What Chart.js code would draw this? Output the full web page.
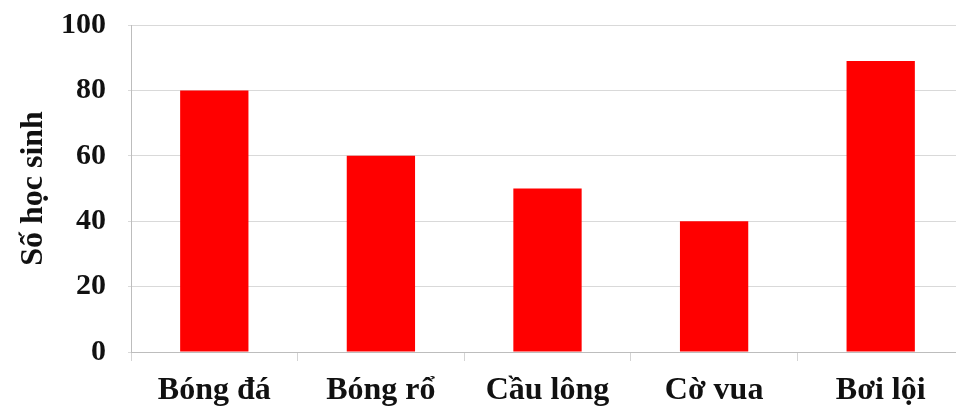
<!DOCTYPE html>
<html>
<head>
<meta charset="utf-8">
<script src="https://cdn.jsdelivr.net/npm/chart.js@4"></script>
<style>
  body { margin: 0; background: #fff; overflow: hidden; }
</style>
</head>
<body>
<canvas id="chart" width="964" height="415"></canvas>
<script>
// data
const sports = ["Bóng đá", "Bóng rổ", "Cầu lông", "Cờ vua", "Bơi lội"];
const students = [80, 60, 50, 40, 89];
const yTicks = [0, 20, 40, 60, 80, 100];

const serif = "'Liberation Serif', 'DejaVu Serif', serif";

new Chart(document.getElementById("chart"), {
    type: "bar",
    data: {
        labels: sports,
        datasets: [{
            data: students,
            backgroundColor: "#ff0000",
            borderWidth: 0,
            categoryPercentage: 1,
            barPercentage: 0.41
        }]
    },
    options: {
        responsive: false,
        animation: false,
        layout: { padding: { top: 25, left: 18, right: 0, bottom: 0 } },
        plugins: { legend: { display: false }, tooltip: { enabled: false } },
        scales: {
            x: {
                grid: {
                    offset: true,
                    drawOnChartArea: false,
                    drawTicks: true,
                    tickLength: 9,
                    color: "#d4d4d4"
                },
                border: { color: "#bdbdbd", width: 1 },
                ticks: {
                    color: "#111",
                    padding: 14,
                    font: { family: serif, size: 32, weight: "bold", lineHeight: 1 }
                },
                afterFit: function(scale){ scale.height = 63; }
            },
            y: {
                min: 0,
                max: 100,
                afterBuildTicks: function(scale){
                    scale.ticks = yTicks.map(function(v){ return { value: v }; });
                },
                grid: { color: "#d9d9d9", tickLength: 3 },
                border: { color: "#bdbdbd", width: 1 },
                ticks: {
                    color: "#111",
                    padding: 22,
                    font: { family: serif, size: 30, weight: "bold", lineHeight: 1 }
                },
                title: {
                    display: true,
                    text: "Số học sinh",
                    color: "#111",
                    padding: { top: 0, bottom: 0 },
                    font: { family: serif, size: 32, weight: "bold", lineHeight: 1 }
                },
                afterFit: function(scale){
                    scale.width = 113;
                    scale.paddingTop = 0;
                    scale.paddingBottom = 0;
                }
            }
        }
    }
});
</script>
</body>
</html>
